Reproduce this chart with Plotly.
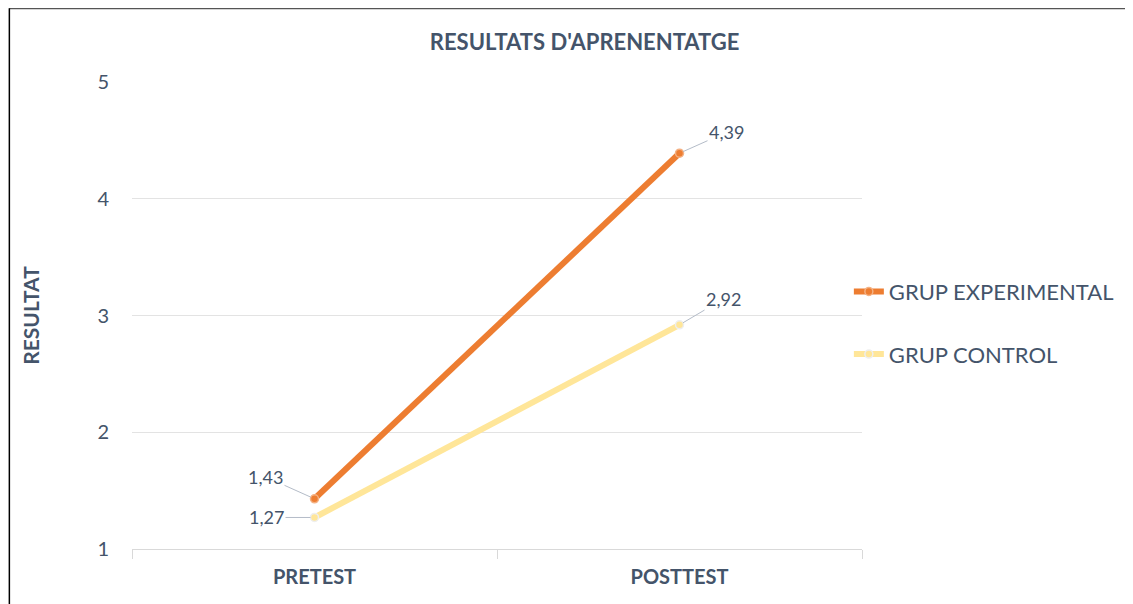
import plotly.graph_objects as go

categories = ["PRETEST", "POSTTEST"]
experimental = [1.43, 4.39]
control = [1.27, 2.92]
series_names = ["GRUP EXPERIMENTAL", "GRUP CONTROL"]

TXT = "#44546a"
FONT = "Lato, Open Sans, sans-serif"


def label(v):
    return f"{v:.2f}".replace(".", ",")


fig = go.Figure()
fig.add_trace(go.Scatter(
    x=categories, y=experimental, name=series_names[0], mode="lines+markers",
    legendgroup="a",
    line=dict(color="#ed7d31", width=6),
    marker=dict(size=8, color="#ed7d31", line=dict(width=1.5, color="#f4b183")),
))
fig.add_trace(go.Scatter(
    x=categories, y=control, name=series_names[1], mode="lines+markers",
    legendgroup="b",
    line=dict(color="#ffe699", width=6),
    marker=dict(size=8, color="#ffe699", line=dict(width=1.5, color="#eeeeee")),
))

# data labels with leader lines
offsets = {
    (0, 0): (-49, -22), (0, 1): (47, -21),
    (1, 0): (-48, 0), (1, 1): (44, -26),
}
for si, ys in enumerate([experimental, control]):
    for ci, v in enumerate(ys):
        ax, ay = offsets[(si, ci)]
        fig.add_annotation(
            x=categories[ci], y=v, text=label(v), showarrow=True,
            arrowhead=0, arrowwidth=1, arrowcolor="#b4bcc8", standoff=4,
            ax=ax, ay=ay, font=dict(family=FONT, size=18, color=TXT),
        )

fig.update_layout(
    width=1133, height=604,
    paper_bgcolor="white", plot_bgcolor="white",
    margin=dict(l=124, r=279, t=74, b=63),
    font=dict(family=FONT, color=TXT),
    title=dict(text="<b>RESULTATS D'APRENENTATGE</b>", x=0.62, xanchor="center",
               xref="paper", y=0.943, yanchor="middle",
               font=dict(size=22, color=TXT)),
    showlegend=True,
    legend=dict(x=0.982, y=0.596, xanchor="left", yanchor="top",
                font=dict(size=22, color=TXT), tracegroupgap=31,
                bgcolor="rgba(0,0,0,0)", itemwidth=30),
    shapes=[
        dict(type="line", xref="paper", yref="paper", x0=-0.168, x1=1.4,
             y0=1.158, y1=1.158, line=dict(color="#555555", width=2)),
        dict(type="line", xref="paper", yref="paper", x0=-0.168, x1=-0.168,
             y0=1.158, y1=-0.2, line=dict(color="black", width=1.5)),
    ],
)
fig.update_xaxes(
    type="category", range=[-0.5, 1.5], tickson="boundaries",
    ticks="outside", ticklen=9, tickcolor="#d9d9d9",
    showline=True, linecolor="#d9d9d9", linewidth=1, showgrid=False,
    tickfont=dict(size=20, color=TXT), ticklabelstandoff=10,
    ticktext=[f"<b>{c}</b>" for c in categories], tickvals=categories,
)
fig.update_yaxes(
    range=[1, 5], dtick=1, showgrid=True, gridcolor="#e3e3e3", gridwidth=1,
    zeroline=False, showline=False, ticks="", ticklabelstandoff=22,
    tickfont=dict(size=20, color=TXT),
    title=dict(text="<b>RESULTAT</b>", font=dict(size=21, color=TXT), standoff=52),
)

fig.write_html("out.html")
